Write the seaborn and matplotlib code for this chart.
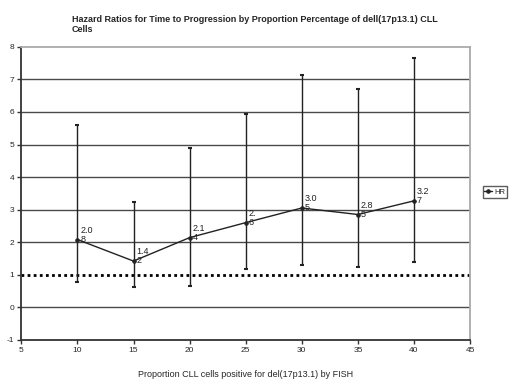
import numpy as np
import pandas as pd
import matplotlib
matplotlib.use('Agg')
import matplotlib.pyplot as plt
import seaborn as sns

# 数据
proportion = [10, 15, 20, 25, 30, 35, 40]
hr = [2.08, 1.42, 2.14, 2.6, 3.05, 2.85, 3.27]
hr_labels = ['2.0\n8', '1.4\n2', '2.1\n4', '2.\n6', '3.0\n5', '2.8\n5', '3.2\n7']
ci_upper = [5.61, 3.23, 4.90, 5.95, 7.14, 6.70, 7.65]
ci_lower = [0.78, 0.63, 0.65, 1.18, 1.31, 1.23, 1.39]
y_ticks = list(range(-1, 9))
x_ticks = list(range(5, 50, 5))

df = pd.DataFrame({'x': proportion, 'HR': hr, 'lo': ci_lower, 'hi': ci_upper})

sns.set_style('white')
plt.rcParams['font.family'] = ['Liberation Sans', 'DejaVu Sans']
plt.rcParams['axes.unicode_minus'] = False

fig = plt.figure(figsize=(5.2, 3.84), dpi=100)
ax = fig.add_axes([0.041, 0.115, 0.863, 0.763])

# 网格线
for y in y_ticks:
    if y == 1:
        ax.axhline(y, color='black', lw=2.0, ls=(0, (1, 1.2)), zorder=1)
    elif -1 < y < 8:
        ax.axhline(y, color='#4a4a4a', lw=1.0, zorder=1)

# 误差线
ax.errorbar(df['x'], df['HR'],
            yerr=[df['HR'] - df['lo'], df['hi'] - df['HR']],
            fmt='none', ecolor='#222222', elinewidth=1.0, capsize=1.5,
            capthick=1.5, zorder=2)

sns.lineplot(data=df, x='x', y='HR', ax=ax, color='#222222', lw=1.0,
             marker='o', markersize=2.5, markeredgecolor='#222222',
             label='HR', legend=False, zorder=3)

for x, y, lab in zip(proportion, hr, hr_labels):
    ax.annotate(lab, (x, y), xytext=(2, -3), textcoords='offset points',
                fontsize=6.5, ha='left', va='bottom', color='#222222',
                linespacing=1.0)

ax.set_xlim(5, 45)
ax.set_ylim(-1, 8)
ax.set_xticks(x_ticks)
ax.set_yticks(y_ticks)
ax.tick_params(axis='both', labelsize=6, length=3, width=1, direction='out',
               color='#333333', pad=2, left=True, bottom=True)

for side in ['left', 'bottom']:
    ax.spines[side].set_color('#333333')
    ax.spines[side].set_linewidth(1.3)
for side in ['top', 'right']:
    ax.spines[side].set_color('#aaaaaa')
    ax.spines[side].set_linewidth(1.3)

ax.set_xlabel('Proportion CLL cells positive for del(17p13.1) by FISH',
              fontsize=6.5, labelpad=12)
ax.set_ylabel('')

fig.text(0.138, 0.962,
         'Hazard Ratios for Time to Progression by Proportion Percentage of dell(17p13.1) CLL\nCells',
         fontsize=6.5, fontweight='bold', ha='left', va='top', linespacing=1.15)

handles, labels = ax.get_legend_handles_labels()
fig.legend(handles, labels, loc='center left', bbox_to_anchor=(0.928, 0.5),
           fontsize=5.5, frameon=True, fancybox=False, edgecolor='#333333',
           handlelength=1.0, borderpad=0.25, handletextpad=0.25,
           borderaxespad=0.0)

plt.savefig('out.png', dpi=100)
